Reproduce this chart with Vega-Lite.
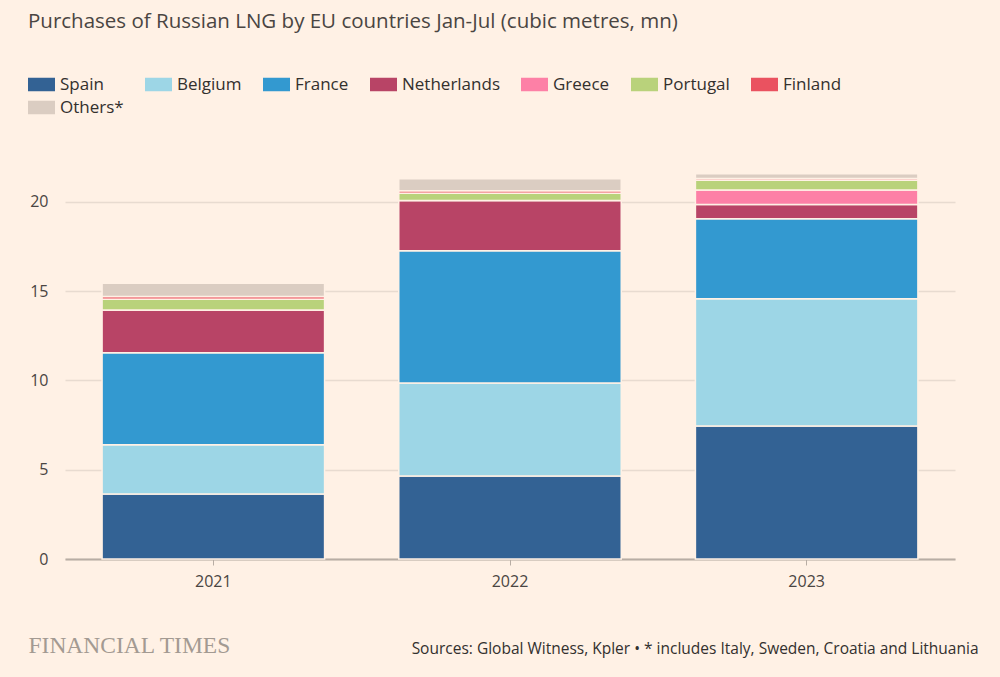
{
  "$schema": "https://vega.github.io/schema/vega-lite/v6.json",
  "autosize": {"type": "none"},
  "width": 890,
  "height": 393,
  "padding": {"left": 65, "top": 166, "right": 45, "bottom": 118},
  "background": "#fff1e5",
  "title": {
    "text": "Purchases of Russian LNG by EU countries Jan-Jul (cubic metres, mn)",
    "anchor": "start",
    "frame": "group",
    "dx": -37,
    "offset": 39,
    "font": "Open Sans",
    "fontSize": 20.5,
    "fontWeight": "normal",
    "color": "#4a4542"
  },
  "data": {
    "values": [
      {"year": "2021", "country": "Spain", "value": 3.64},
      {"year": "2021", "country": "Belgium", "value": 2.75},
      {"year": "2021", "country": "France", "value": 5.15},
      {"year": "2021", "country": "Netherlands", "value": 2.4},
      {"year": "2021", "country": "Greece", "value": 0},
      {"year": "2021", "country": "Portugal", "value": 0.6},
      {"year": "2021", "country": "Finland", "value": 0.15},
      {"year": "2021", "country": "Others*", "value": 0.75},
      {"year": "2022", "country": "Spain", "value": 4.65},
      {"year": "2022", "country": "Belgium", "value": 5.2},
      {"year": "2022", "country": "France", "value": 7.4},
      {"year": "2022", "country": "Netherlands", "value": 2.82},
      {"year": "2022", "country": "Greece", "value": 0},
      {"year": "2022", "country": "Portugal", "value": 0.4},
      {"year": "2022", "country": "Finland", "value": 0.15},
      {"year": "2022", "country": "Others*", "value": 0.67},
      {"year": "2023", "country": "Spain", "value": 7.45},
      {"year": "2023", "country": "Belgium", "value": 7.12},
      {"year": "2023", "country": "France", "value": 4.48},
      {"year": "2023", "country": "Netherlands", "value": 0.8},
      {"year": "2023", "country": "Greece", "value": 0.8},
      {"year": "2023", "country": "Portugal", "value": 0.55},
      {"year": "2023", "country": "Finland", "value": 0.1},
      {"year": "2023", "country": "Others*", "value": 0.27}
    ]
  },
  "transform": [
    {"calculate": "indexof(['Spain','Belgium','France','Netherlands','Greece','Portugal','Finland','Others*'], datum.country)", "as": "stackOrder"}
  ],
  "mark": {"type": "bar", "stroke": "#fff1e5", "strokeWidth": 1.5},
  "encoding": {
    "x": {
      "field": "year",
      "type": "nominal",
      "scale": {"paddingInner": 0.25, "paddingOuter": 0.125},
      "axis": {
        "labelAngle": 0,
        "labelFont": "Open Sans",
        "labelFontSize": 16,
        "labelColor": "#4a4542",
        "labelPadding": 8,
        "domainColor": "#b8ada4",
        "domainWidth": 2,
        "tickColor": "#b8ada4",
        "tickSize": 6,
        "title": "Sources: Global Witness, Kpler • * includes Italy, Sweden, Croatia and Lithuania",
        "titleX": 913,
        "titleY": 89,
        "titleAlign": "right",
        "titleBaseline": "middle",
        "titleFont": "Open Sans",
        "titleFontSize": 15.5,
        "titleFontWeight": "normal",
        "titleColor": "#33302e"
      }
    },
    "y": {
      "field": "value",
      "type": "quantitative",
      "stack": "zero",
      "scale": {"domain": [0, 22], "nice": false},
      "axis": {
        "values": [0, 5, 10, 15, 20],
        "domain": false,
        "ticks": false,
        "grid": true,
        "gridColor": "#e8dbd0",
        "gridWidth": 1.5,
        "labelPadding": 17,
        "labelFont": "Open Sans",
        "labelFontSize": 16,
        "labelColor": "#4a4542",
        "title": "FINANCIAL TIMES",
        "titleAngle": 0,
        "titleX": -37,
        "titleY": 479,
        "titleAlign": "left",
        "titleBaseline": "middle",
        "titleFont": "Liberation Serif",
        "titleFontSize": 23.5,
        "titleFontWeight": "normal",
        "titleColor": "#a39a92"
      }
    },
    "color": {
      "field": "country",
      "type": "nominal",
      "sort": ["Spain", "Belgium", "France", "Netherlands", "Greece", "Portugal", "Finland", "Others*"],
      "scale": {
        "domain": ["Spain", "Belgium", "France", "Netherlands", "Greece", "Portugal", "Finland", "Others*"],
        "range": ["#336294", "#9dd6e6", "#3399d0", "#b84466", "#fd80a6", "#b9d27b", "#ea5260", "#dbcdc2"]
      },
      "legend": {
        "title": null,
        "orient": "none",
        "legendX": -37,
        "legendY": -95,
        "direction": "horizontal",
        "columns": 7,
        "gridAlign": "none",
        "columnPadding": 21,
        "rowPadding": 1,
        "symbolType": "M-1,-0.5H1V0.5H-1Z",
        "symbolSize": 729,
        "symbolStrokeWidth": 0,
        "symbolOpacity": 1,
        "labelOffset": 5,
        "labelFont": "Open Sans",
        "labelFontSize": 17,
        "labelColor": "#33302e"
      }
    },
    "order": {"field": "stackOrder", "type": "quantitative", "sort": "ascending"}
  },
  "config": {"view": {"stroke": null}}
}
